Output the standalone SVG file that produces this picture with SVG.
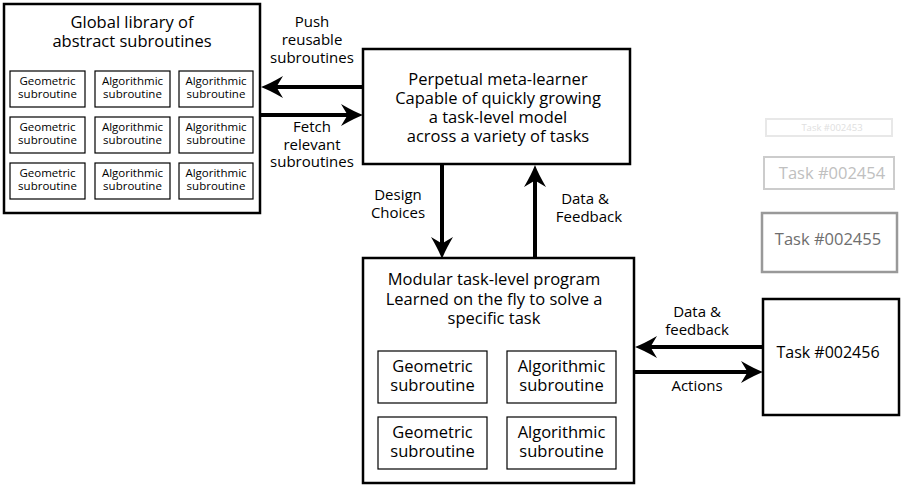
<svg xmlns="http://www.w3.org/2000/svg" width="902" height="489" viewBox="0 0 902 489">
<style>
text{font-family:"Open Sans","DejaVu Sans",sans-serif;fill:#000;text-anchor:middle}
.box{fill:#fff;stroke:#000;stroke-width:2.5}
.sb{fill:#fff;stroke:#000;stroke-width:1.2}
.t16{font-size:16.5px}
.t15{font-size:16.5px}
.t14{font-size:15px}
.t11{font-size:11.5px}
.ln{fill:none;stroke:#000;stroke-width:4}
</style>
<defs>
<marker id="ah" viewBox="0 0 20 20" refX="10" refY="10" markerWidth="22" markerHeight="22" markerUnits="userSpaceOnUse" orient="auto">
<path d="M0,0 Q12,7 20,10 Q12,13 0,20 L6,10 Z" fill="#000"/>
</marker>
</defs>
<rect width="902" height="489" fill="#fff"/>

<g id="library">
<rect class="box" x="4" y="4" width="256" height="209"/>
<text class="t16" x="132" y="28">Global library of</text>
<text class="t16" x="132" y="47">abstract subroutines</text>
<rect class="sb" x="10" y="71" width="75" height="36"/>
<rect class="sb" x="95" y="71" width="75" height="36"/>
<rect class="sb" x="179" y="71" width="74" height="36"/>
<rect class="sb" x="10" y="117" width="75" height="36"/>
<rect class="sb" x="95" y="117" width="75" height="36"/>
<rect class="sb" x="179" y="117" width="74" height="36"/>
<rect class="sb" x="10" y="163" width="75" height="36"/>
<rect class="sb" x="95" y="163" width="75" height="36"/>
<rect class="sb" x="179" y="163" width="74" height="36"/>
<g class="t11">
<text x="47.5" y="85">Geometric</text><text x="47.5" y="98">subroutine</text>
<text x="132.5" y="85">Algorithmic</text><text x="132.5" y="98">subroutine</text>
<text x="216" y="85">Algorithmic</text><text x="216" y="98">subroutine</text>
<text x="47.5" y="131">Geometric</text><text x="47.5" y="144">subroutine</text>
<text x="132.5" y="131">Algorithmic</text><text x="132.5" y="144">subroutine</text>
<text x="216" y="131">Algorithmic</text><text x="216" y="144">subroutine</text>
<text x="47.5" y="177">Geometric</text><text x="47.5" y="190">subroutine</text>
<text x="132.5" y="177">Algorithmic</text><text x="132.5" y="190">subroutine</text>
<text x="216" y="177">Algorithmic</text><text x="216" y="190">subroutine</text>
</g>
</g>

<g id="meta">
<rect class="box" x="363" y="49" width="267" height="115"/>
<g class="t15">
<text x="498" y="85">Perpetual meta-learner</text>
<text x="498" y="104">Capable of quickly growing</text>
<text x="498" y="123">a task-level model</text>
<text x="498" y="142">across a variety of tasks</text>
</g>
</g>

<g id="modular">
<rect class="box" x="363" y="258" width="271" height="225"/>
<g class="t15">
<text x="494" y="285">Modular task-level program</text>
<text x="494" y="305">Learned on the fly to solve a</text>
<text x="494" y="324">specific task</text>
</g>
<rect class="sb" x="378" y="351" width="109" height="52"/>
<rect class="sb" x="507" y="351" width="109" height="52"/>
<rect class="sb" x="378" y="417" width="109" height="52"/>
<rect class="sb" x="507" y="417" width="109" height="52"/>
<g class="t15">
<text x="432.5" y="372">Geometric</text><text x="432.5" y="391">subroutine</text>
<text x="561.5" y="372">Algorithmic</text><text x="561.5" y="391">subroutine</text>
<text x="432.5" y="438">Geometric</text><text x="432.5" y="457">subroutine</text>
<text x="561.5" y="438">Algorithmic</text><text x="561.5" y="457">subroutine</text>
</g>
</g>

<g id="task2453">
<rect x="766" y="119" width="126" height="17" fill="#fff" stroke="#e8e8e8" stroke-width="2"/>
<text x="832" y="131" font-size="9.5" style="fill:#e0e0e0">Task #002453</text>
</g>
<g id="task2454">
<rect x="764" y="157" width="130" height="32" fill="#fff" stroke="#cccccc" stroke-width="2"/>
<text x="832" y="179" font-size="16.5" style="fill:#c0c0c0">Task #002454</text>
</g>
<g id="task2455">
<rect x="762" y="213" width="135" height="59" fill="#fff" stroke="#999999" stroke-width="2.5"/>
<text x="828" y="245" font-size="16.5" style="fill:#6e6e6e">Task #002455</text>
</g>
<g id="task2456">
<rect class="box" x="763" y="299" width="136" height="116"/>
<text x="828" y="358" font-size="16">Task #002456</text>
</g>

<g id="connectors">
<line class="ln" x1="363" y1="87" x2="272" y2="87" marker-end="url(#ah)"/>
<line class="ln" x1="260" y1="115" x2="352" y2="115" marker-end="url(#ah)"/>
<line class="ln" x1="442" y1="164" x2="442" y2="248" marker-end="url(#ah)"/>
<line class="ln" x1="535" y1="258" x2="535" y2="176" marker-end="url(#ah)"/>
<line class="ln" x1="763" y1="347" x2="646" y2="347" marker-end="url(#ah)"/>
<line class="ln" x1="634" y1="372" x2="752" y2="372" marker-end="url(#ah)"/>
<g class="t14">
<text x="312" y="27">Push</text>
<text x="312" y="45">reusable</text>
<text x="312" y="63">subroutines</text>
<text x="312" y="132">Fetch</text>
<text x="312" y="149.5">relevant</text>
<text x="312" y="167">subroutines</text>
<text x="398" y="200">Design</text>
<text x="398" y="218">Choices</text>
<text x="585" y="204">Data &amp;</text>
<text x="589" y="222">Feedback</text>
<text x="697" y="317">Data &amp;</text>
<text x="697" y="335">feedback</text>
<text x="697" y="391">Actions</text>
</g>
</g>
</svg>
